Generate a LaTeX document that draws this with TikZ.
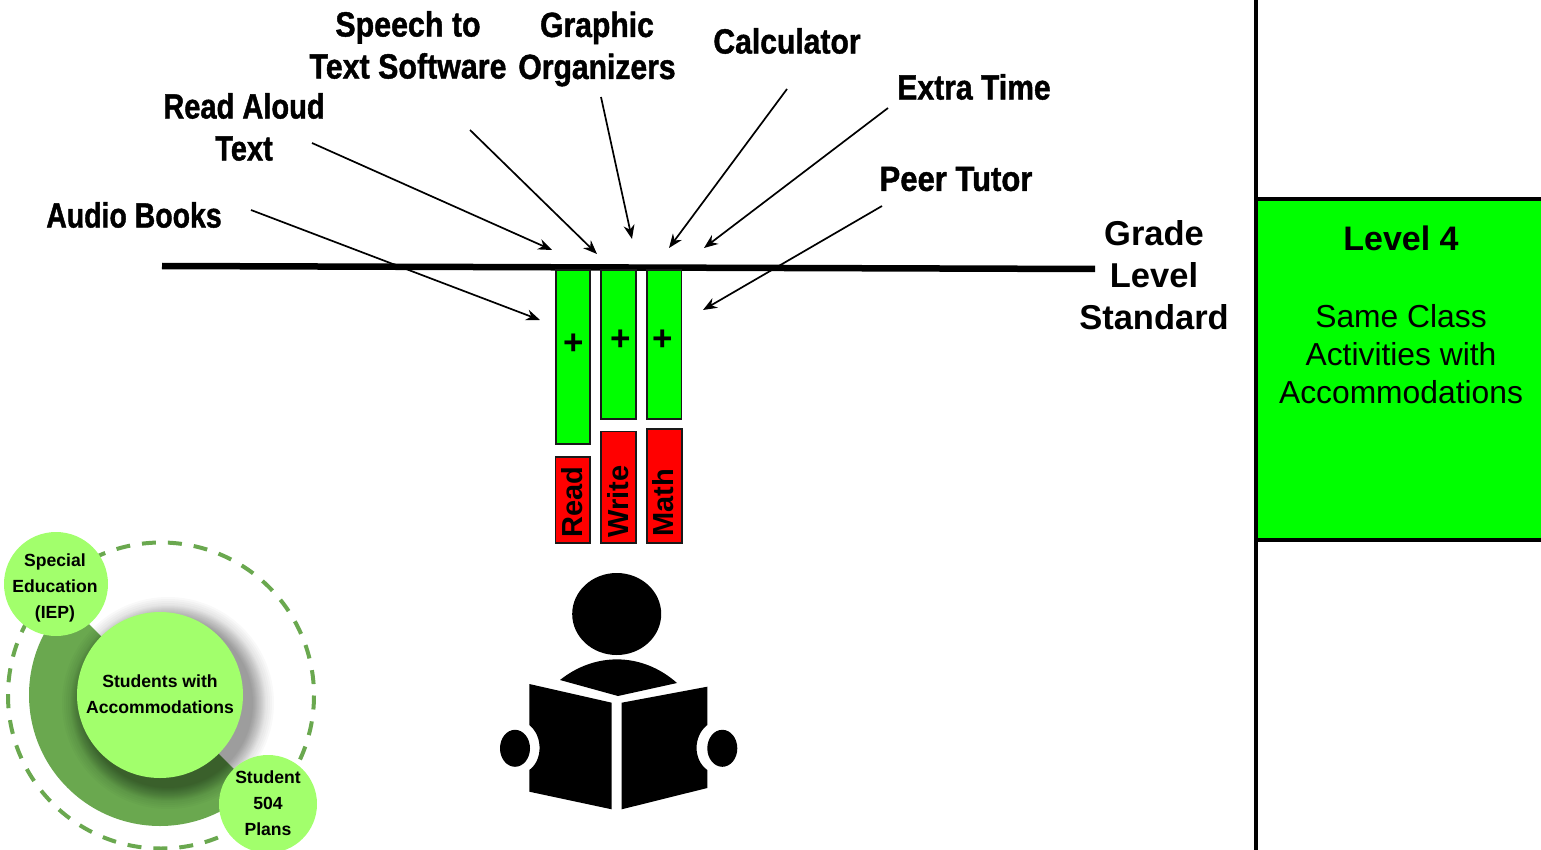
\documentclass[tikz,border=0pt]{standalone}
\usepackage{fontspec}
\setmainfont{Liberation Sans}
\newfontfamily\condfont[FakeStretch=0.86,FakeBold=1.2]{Liberation Sans Bold}
\usetikzlibrary{arrows.meta}
\definecolor{limeg}{HTML}{00FF00}
\definecolor{pale}{HTML}{A2FF6C}
\definecolor{leaf}{HTML}{6AA84F}
\tikzset{
  cond/.style={font=\condfont\fontsize{35}{42}\selectfont,align=center,inner sep=0pt,text=black},
  bold/.style={font=\bfseries\fontsize{34.5}{42}\selectfont,align=center,inner sep=0pt},
  arr/.style={draw=black,line width=1.7pt,-{Stealth[length=14pt,width=11pt]}},
  gbar/.style={draw=black!90,line width=1.7pt,fill=limeg},
  rbar/.style={draw=black!90,line width=1.7pt,fill=red},
  barword/.style={font=\bfseries\fontsize{29}{30}\selectfont,rotate=90,inner sep=0pt},
  plus/.style={font=\bfseries\fontsize{35}{36}\selectfont,inner sep=0pt},
  disc/.style={circle,fill=pale,inner sep=0pt},
  disctext/.style={inner sep=0pt,align=center,font=\bfseries\fontsize{17.6}{26}\selectfont},
}
\begin{document}
\begin{tikzpicture}[x=1pt,y=-1pt]
\useasboundingbox (0,0) rectangle (1541,850);
% right panel
\fill[limeg] (1256,199) rectangle (1541,540);
\draw[line width=4pt] (1256,0) -- (1256,850);
\draw[line width=4pt] (1256,199) -- (1541,199) (1256,540) -- (1541,540);
\node[inner sep=0pt,font=\bfseries\fontsize{34}{40}\selectfont] (lvl) at (1401,238) {Level 4};
\node[inner sep=0pt,align=center,font=\fontsize{31.8}{38}\selectfont] (lvltxt) at (1401,354) {Same Class\\Activities with\\Accommodations};
% standard line
\coordinate (sl) at (162,266);
\coordinate (sr) at (1095,269);
\draw[line width=6.5pt] (sl) -- (sr);
\node[bold] (gls) at (1154,275) {Grade\\Level\\Standard};
% bars
\draw[gbar] (556,270) rectangle (590,444);
\draw[gbar] (601,270) rectangle (636,419);
\draw[gbar] (647,270) rectangle (681.5,419);
\draw[rbar] (555.5,457) rectangle (590,543);
\draw[rbar] (601,431.5) rectangle (636,543);
\draw[rbar] (647,429) rectangle (682,543);
\node[plus] (p1) at (574,344) {+};
\node[plus] (p2) at (621,340) {+};
\node[plus] (p3) at (663,340) {+};
\node[barword] (b1) at (572,502) {Read};
\node[barword] (b2) at (618,501.5) {Write};
\node[barword] (b3) at (663,503) {Math};
% labels
\node[cond,xscale=.945,transform shape] (audio) at (134,215) {Audio Books};
\node[cond,xscale=.965,transform shape] (aloud) at (244,127) {Read Aloud\\Text};
\node[cond,xscale=1.01,transform shape] (speech) at (408,45) {Speech to\\Text Software};
\node[cond] (graphic) at (597,49) {Graphic\\Organizers};
\node[cond] (calc) at (787,41) {Calculator};
\node[cond] (extra) at (974,87) {Extra Time};
\node[cond,xscale=1.03,transform shape] (peer) at (956,179) {Peer Tutor};
% arrows
\coordinate (a1s) at (251,210); \coordinate (a1e) at (540,320);
\coordinate (a2s) at (312,143); \coordinate (a2e) at (552,250);
\coordinate (a3s) at (470,130); \coordinate (a3e) at (597,254);
\coordinate (a4s) at (601,97);  \coordinate (a4e) at (632,239);
\coordinate (a5s) at (787,89);  \coordinate (a5e) at (669,248);
\coordinate (a6s) at (888,108); \coordinate (a6e) at (704,248);
\coordinate (a7s) at (882,206); \coordinate (a7e) at (703,310);
\foreach \n in {1,...,7} \draw[arr] (a\n s) -- (a\n e);
% reader
\fill (616.7,614) ellipse [x radius=44.5,y radius=41];
\fill (560,680) .. controls (595,652) and (642,652) .. (677,683) -- (618,696) -- cycle;
\fill (529.3,684) -- (611.7,702.7) -- (611.7,809.3) -- (529.3,791.7) -- (529.3,770)
  .. controls (543,760) and (543,736) .. (529.3,725) -- cycle;
\fill (621.7,702.7) -- (707.3,686.7) -- (707.3,725) .. controls (693,736) and (693,760) .. (707.3,770)
  -- (707.3,788) -- (621.7,809.3) -- cycle;
\fill (515,748.3) ellipse [x radius=15,y radius=18.5];
\fill (722.3,748.3) ellipse [x radius=15,y radius=18.5];
% circle graphic
\coordinate (cc) at (160,695);
\coordinate (dc) at (161,695.5);
\draw[leaf,line width=4pt,dash pattern=on 14pt off 12pt] (dc) circle [radius=153];
\fill[leaf] (cc) ++(225:131) arc [start angle=225,end angle=45,radius=131] -- cycle;
\begin{scope}
\clip (0,520) rectangle (330,850);
\foreach \r in {106,104,...,86} \fill[black,opacity=0.022] (168,703) circle [radius=\r];
\foreach \r in {97,95,...,85} \fill[black,opacity=0.03] (168,703) circle [radius=\r];
\end{scope}
\node[disc,minimum size=166pt] (main) at (cc) {};
\node[disctext] (maintxt) at (160,694) {Students with\\Accommodations};
\node[disc,minimum size=104pt] (iep) at (56,584) {};
\node[disctext] (ieptxt) at (55,588) {Special\\Education\\(IEP)};
\begin{scope}
\clip (0,520) rectangle (330,850);
\node[disc,minimum size=98pt] (plan) at (268,804) {};
\end{scope}
\node[disctext] (plantxt) at (268,803) {Student\\504\\Plans};
\end{tikzpicture}
\end{document}
